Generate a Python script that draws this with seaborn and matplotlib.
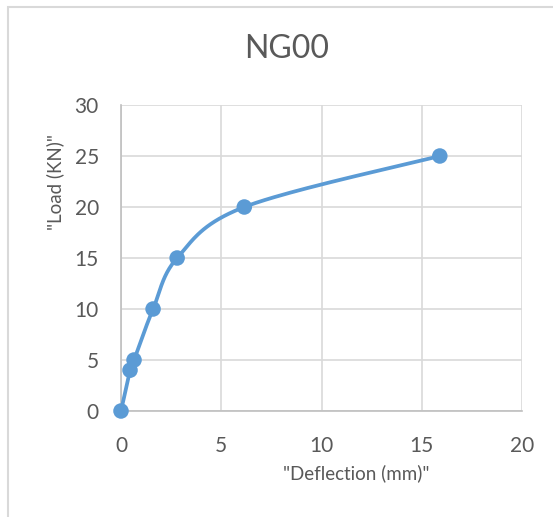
import numpy as np
import pandas as pd
import matplotlib
matplotlib.use('Agg')
import matplotlib.pyplot as plt
import seaborn as sns
from matplotlib.patches import Rectangle

# 数据
deflection = [0.0, 0.45, 0.65, 1.6, 2.8, 6.15, 15.9]
load = [0, 4, 5, 10, 15, 20, 25]
x_ticks = [0, 5, 10, 15, 20]
y_ticks = [0, 5, 10, 15, 20, 25, 30]

sns.set_style('white')
plt.rcParams['font.family'] = ['Lato', 'DejaVu Sans']

BLUE = '#5B9BD5'
TXT = '#595959'


def smooth_curve(xs, ys, steps=40):
    # 类似 Excel 平滑线: Catmull-Rom 转 Bezier
    pts = np.column_stack([xs, ys]).astype(float)
    out = []
    n = len(pts)
    for i in range(n - 1):
        p0 = pts[i - 1] if i > 0 else pts[i]
        p1 = pts[i]
        p2 = pts[i + 1]
        p3 = pts[i + 2] if i + 2 < n else pts[i + 1]
        c1 = p1 + (p2 - p0) / 6.0
        c2 = p2 - (p3 - p1) / 6.0
        t = np.linspace(0, 1, steps)[:, None]
        seg = ((1 - t) ** 3) * p1 + 3 * ((1 - t) ** 2) * t * c1 + 3 * (1 - t) * t ** 2 * c2 + t ** 3 * p2
        out.append(seg if i == 0 else seg[1:])
    return np.vstack(out)


df = pd.DataFrame({'deflection': deflection, 'load': load})
curve = smooth_curve(deflection, load)
curve_df = pd.DataFrame({'x': curve[:, 0], 'y': curve[:, 1]})

fig = plt.figure(figsize=(5.53, 5.17), dpi=100)
ax = fig.add_axes([121 / 553, 1 - 411 / 517, 401 / 553, 306 / 517])

sns.lineplot(data=curve_df, x='x', y='y', sort=False, estimator=None, color=BLUE,
             linewidth=2.7, ax=ax, zorder=3)
sns.scatterplot(data=df, x='deflection', y='load', color=BLUE, s=125, edgecolor='none',
                ax=ax, zorder=4, clip_on=False)

ax.set_xlim(0, 20)
ax.set_ylim(0, 30)
ax.set_xticks(x_ticks)
ax.set_yticks(y_ticks)
ax.grid(True, color='#d9d9d9', linewidth=1.2)
ax.set_axisbelow(True)
for s in ['top', 'right']:
    ax.spines[s].set_visible(False)
for s in ['left', 'bottom']:
    ax.spines[s].set_color('#bfbfbf')
    ax.spines[s].set_linewidth(1.2)
ax.tick_params(length=0, labelsize=15, labelcolor=TXT)
ax.tick_params(axis='x', pad=18)
ax.tick_params(axis='y', pad=16)

ax.set_xlabel('"Deflection (mm)"', fontsize=13.5, color=TXT)
ax.set_ylabel('"Load (KN)"', fontsize=13.5, color=TXT)
ax.xaxis.label.set_va('center')
ax.yaxis.label.set_va('center')
ax.xaxis.set_label_coords((356 - 121) / 401, (411 - 473) / 306)
ax.yaxis.set_label_coords((55 - 121) / 401, (411 - 182) / 306)

# 标题 (居中于整个图表区)
fig.text(287 / 553, 1 - 49 / 517, 'NG00', fontsize=23, color=TXT, ha='center', va='center')

# 图表外框
fig.patches.append(Rectangle((7.5 / 553, -0.1), 1.2, 1 - 6.5 / 517 + 0.1,
                             transform=fig.transFigure, fill=False,
                             edgecolor='#d9d9d9', linewidth=1.5))

fig.savefig('out.png', dpi=100)
